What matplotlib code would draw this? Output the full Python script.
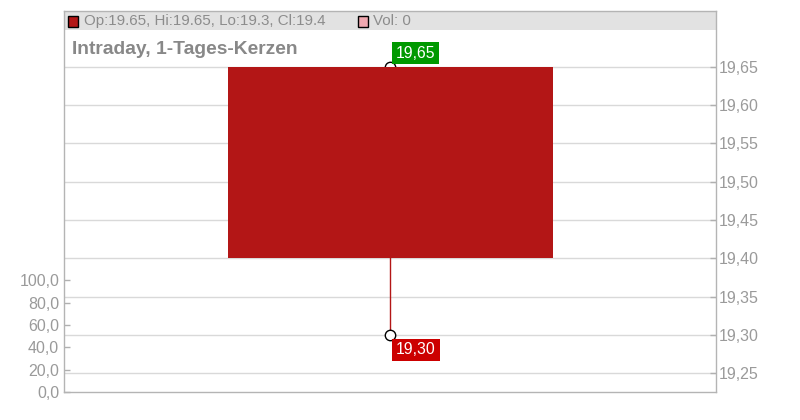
import matplotlib
matplotlib.use("Agg")
import matplotlib.pyplot as plt
from matplotlib.patches import Rectangle

plt.rcParams['font.family'] = ['Liberation Sans', 'DejaVu Sans']

# ---- data ----
op, hi, lo, cl = 19.65, 19.65, 19.30, 19.40
volume = 0
price_ticks = [19.25, 19.30, 19.35, 19.40, 19.45, 19.50, 19.55, 19.60, 19.65]
vol_ticks = [0, 20, 40, 60, 80, 100]
title = "Intraday, 1-Tages-Kerzen"
legend_ohlc = "Op:19.65, Hi:19.65, Lo:19.3, Cl:19.4"
legend_vol = "Vol: 0"

W, H = 800, 420
fig = plt.figure(figsize=(W / 100, H / 100), dpi=100)

L, R, T, B = 64, 716.3, 11, 392.3
ax = fig.add_axes([L / W, (H - B) / H, (R - L) / W, (B - T) / H])
ax.set_zorder(2)
ax.patch.set_visible(False)
axv = ax.twinx()
axv.set_zorder(1)

# price axis (right)
ax.set_xlim(-0.5, 0.5)
ax.set_ylim(19.2252, 19.7225)
ax.yaxis.tick_right()
ax.set_yticks(price_ticks)
ax.set_yticklabels([f"{v:.2f}".replace('.', ',') for v in price_ticks])
ax.set_xticks([])
ax.tick_params(axis='y', colors='#b0b0b0', labelcolor='#9a9a9a', labelsize=11.5,
               length=4, width=1, pad=1.8, direction='in')
for s in ax.spines.values():
    s.set_color('#b4b4b4')
    s.set_linewidth(1)

# volume axis (left)
axv.set_ylim(0, 340.4)
axv.yaxis.tick_left()
axv.set_yticks(vol_ticks)
axv.set_yticklabels([f"{v:.1f}".replace('.', ',') for v in vol_ticks])
axv.tick_params(axis='y', colors='#b0b0b0', labelcolor='#9a9a9a', labelsize=11.5,
                length=4, width=1, pad=3.5, direction='in')
for s in axv.spines.values():
    s.set_visible(False)

# grid lines (price)
for v in price_ticks:
    ax.axhline(v, color='#d9d9d9', lw=1, zorder=0)

# header band
band_h = (30 - 11) / (B - T)
ax.add_patch(Rectangle((0, 1 - band_h), 1, band_h, transform=ax.transAxes,
                       facecolor='#e2e2e2', edgecolor='none', zorder=1))

# candle
ax.vlines(0, lo, hi, color='#b31616', lw=1, zorder=3)
ax.plot([0, 0], [hi, lo], 'o', ms=7.5, mfc='white', mec='black', mew=1,
        ls='none', zorder=4)
ax.bar(0, op - cl, bottom=cl, width=0.498, color='#b31616', zorder=5)

# value labels
ax.annotate(f"{hi:.2f}".replace('.', ','), (0, hi), xytext=(6, 13.5), textcoords='offset pixels',
            ha='left', va='center', color='white', fontsize=11.3, zorder=6,
            bbox=dict(boxstyle='square,pad=0.24', fc='#009900', ec='none'))
ax.annotate(f"{lo:.2f}".replace('.', ','), (0, lo), xytext=(6, -15), textcoords='offset pixels',
            ha='left', va='center', color='white', fontsize=11.3, zorder=6,
            bbox=dict(boxstyle='square,pad=0.24', fc='#cc0000', ec='none'))

# legend in header
def fx(x):
    return x / W
def fy(y):
    return 1 - y / H

fig.patches.append(Rectangle((fx(68), fy(26.5)), 10 / W, 10 / H, transform=fig.transFigure,
                             facecolor='#b31616', edgecolor='black', lw=1, zorder=10))
fig.text(fx(84), fy(21), legend_ohlc, ha='left', va='center', color='#8c8c8c', fontsize=10.9)
fig.patches.append(Rectangle((fx(357.5), fy(26.5)), 10 / W, 10 / H, transform=fig.transFigure,
                             facecolor='#f0a8b0', edgecolor='black', lw=1, zorder=10))
fig.text(fx(373), fy(21), legend_vol, ha='left', va='center', color='#8c8c8c', fontsize=10.9)

# title
fig.text(fx(72), fy(49), title, ha='left', va='center', color='#888888',
         fontsize=13.9, fontweight='bold')

fig.savefig('out.png', dpi=100)
